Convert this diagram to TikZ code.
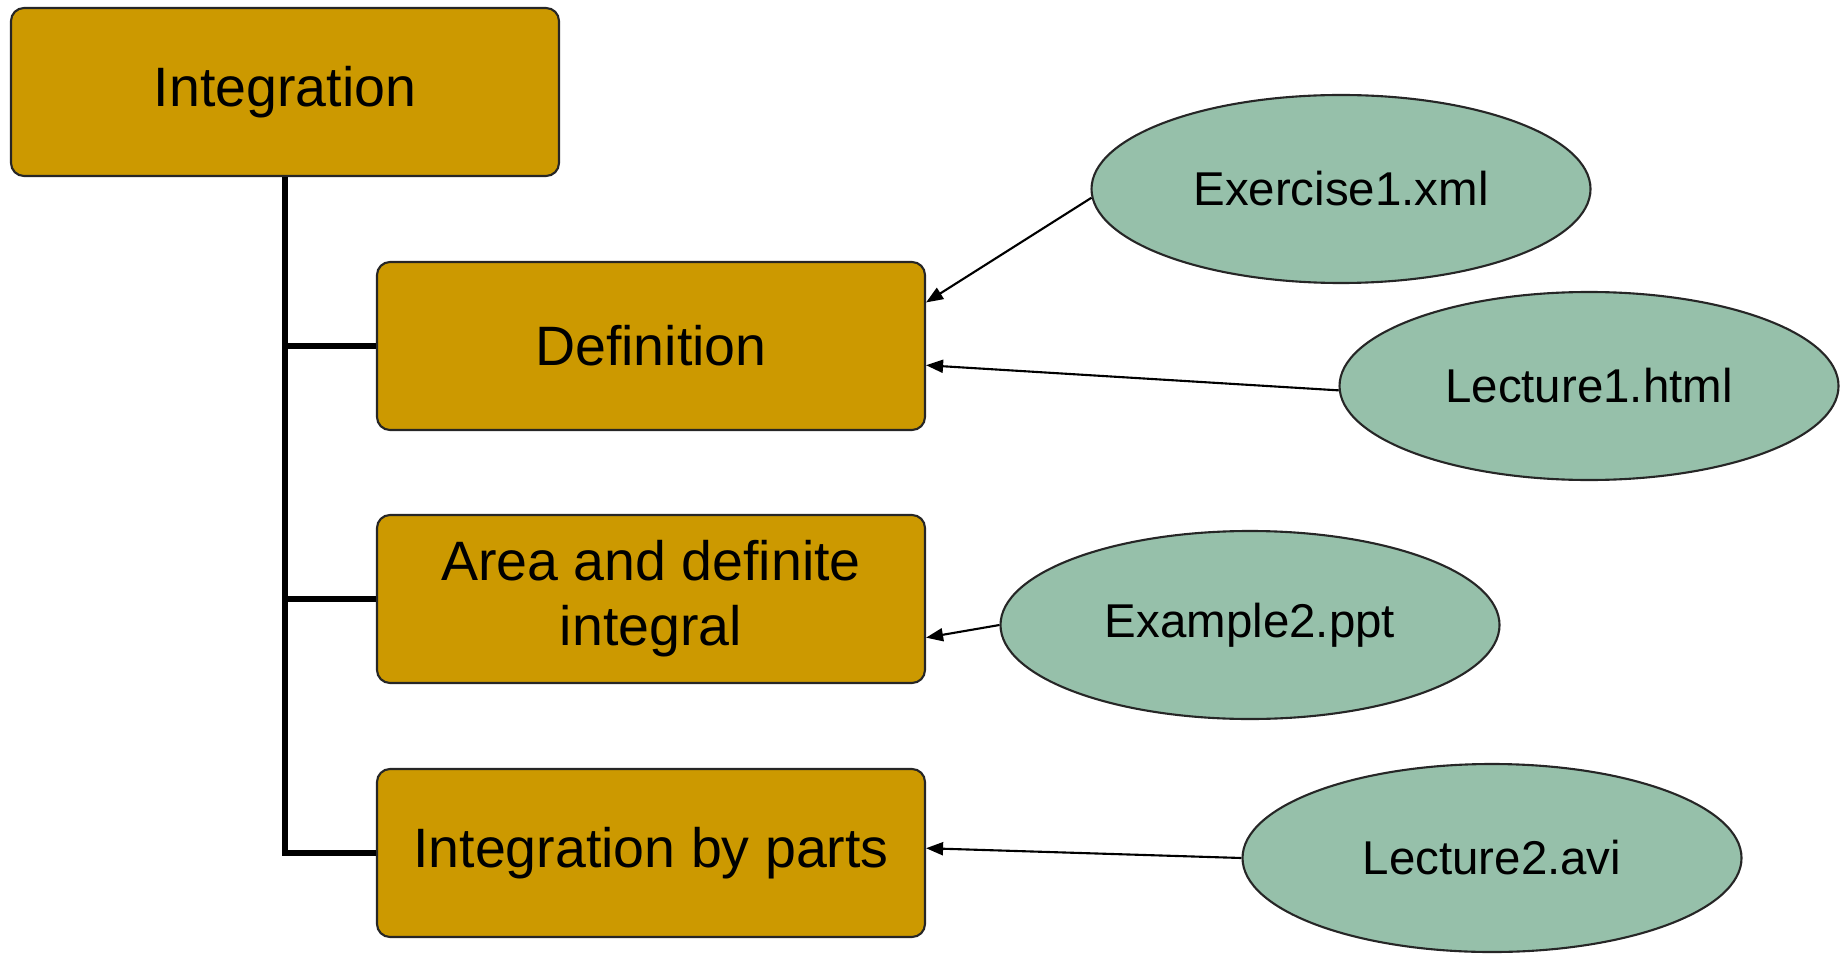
\documentclass[tikz,border=0pt]{standalone}
\usepackage{fontspec}
\setmainfont{Liberation Sans}
\usepackage{xcolor}
\usetikzlibrary{
  arrows.meta,
  positioning,
  shapes.geometric,
}
\definecolor{topicgold}{RGB}{204,153,0}
\definecolor{filegreen}{RGB}{150,192,170}

\begin{document}
\begin{tikzpicture}[
  topic/.style={
    rectangle, draw=black!85, line width=0.6pt, rounded corners=1.3mm,
    fill=topicgold, minimum width=5.48cm, minimum height=1.68cm,
    align=center, inner sep=0pt,
    font=\fontsize{15.8}{18.5}\selectfont,
  },
  resource/.style={
    ellipse, draw=black!85, line width=0.6pt, fill=filegreen,
    minimum width=4.99cm, minimum height=1.88cm, inner sep=0pt,
    font=\fontsize{13.5}{16}\selectfont,
  },
  trunk/.style={line width=1.6pt, line join=miter},
  link/.style={line width=0.6pt, -{Triangle[length=1.7mm, width=1.3mm]}},
]
  \useasboundingbox (0,0) rectangle (18.40,-9.53);

  % Topics
  \node[topic] (integ) at (2.85,-0.92) {Integration};
  \node[topic] (def)   at (6.51,-3.46) {Definition};
  \node[topic] (area)  at (6.51,-5.99) {Area and definite\\integral};
  \node[topic] (parts) at (6.51,-8.53) {Integration by parts};

  % Resources
  \node[resource] (ex1)  at (13.41,-1.89) {Exercise1.xml};
  \node[resource] (lec1) at (15.89,-3.86) {Lecture1.html};
  \node[resource] (ex2)  at (12.50,-6.25) {Example2.ppt};
  \node[resource] (lec2) at (14.92,-8.58) {Lecture2.avi};

  % Tree
  \draw[trunk] (integ.south) |- (parts.west);
  \draw[trunk] (integ.south |- def.west) -- (def.west);
  \draw[trunk] (integ.south |- area.west) -- (area.west);

  % Links
  \draw[link] (ex1.182) -- (def.9);
  \draw[link] (lec1.181) -- (def.356);
  \draw[link] (ex2.west) -- (area.352);
  \draw[link] (lec2.west) -- (parts.1);

\end{tikzpicture}
\end{document}
